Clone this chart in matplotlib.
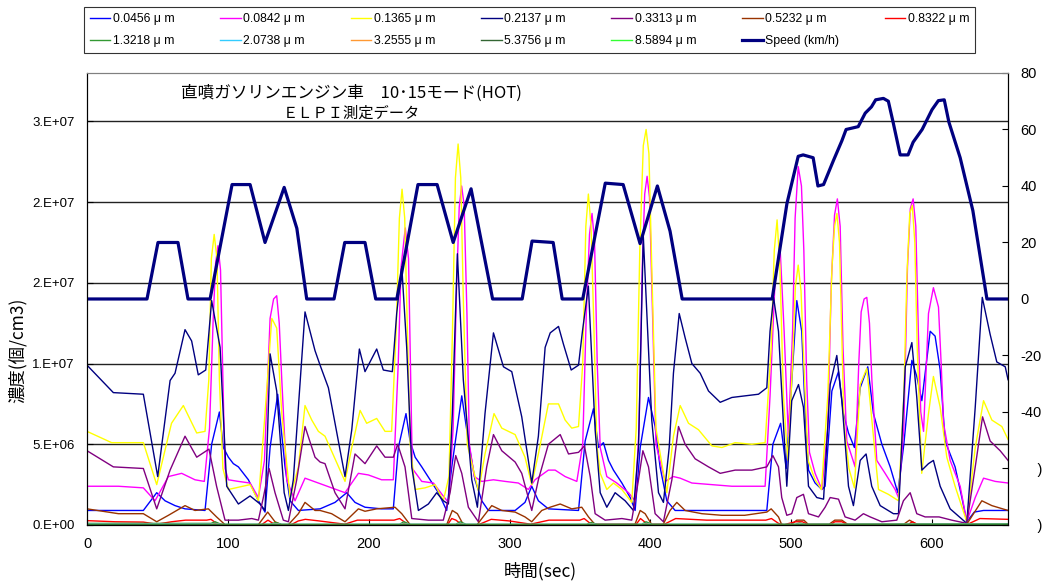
import numpy as np
import matplotlib
matplotlib.use("Agg")
import matplotlib.pyplot as plt

plt.rcParams['font.family'] = ['Liberation Sans', 'Noto Sans CJK JP', 'DejaVu Sans']

# particle concentrations, values in 1e6 /cm3
t_0456 = [0, 40, 49.5, 55.4, 62.5, 69.6, 83.8, 88.5, 94, 96.8, 100.4, 103.9, 107.5, 114.6, 121.7, 126.4, 130, 135.4,
          140.6, 144.2, 150.1, 165.5, 176.1, 184.4, 190.3, 197.4, 209.2, 217.5, 221.1, 226.5, 229.4, 233, 237.7, 243.6,
          249.5, 255.4, 259, 266.1, 270.8, 275.5, 280.3, 285, 304, 311, 315.8, 320.5, 327.6, 349, 353.7, 359.6, 363.2,
          366.7, 370.3, 373.8, 379.8, 385.7, 389.2, 392.8, 398.7, 403.4, 406.9, 411.7, 417.6, 482.7, 487, 492.5, 496.5,
          500.5, 504, 507.5, 510, 512.3, 517, 521.8, 524.1, 528.9, 533.6, 537.1, 540.7, 544.9, 549, 554.4, 558.4, 564.4,
          570.3, 575.7, 580, 585.7, 589.2, 592.8, 598.7, 602.2, 605.8, 609.3, 616.4, 621.2, 624.7, 630, 636.6, 654]
c_0456 = [0.9, 0.9, 2.0, 1.5, 1.2, 1.0, 0.9, 5.0, 7.0, 4.8, 4.2, 3.8, 3.6, 2.8, 1.5, 0.8, 4.8, 8.1,
          3.6, 1.5, 0.9, 1.0, 1.4, 2.0, 1.4, 1.1, 1.0, 1.0, 4.8, 6.9, 5.2, 4.2, 3.6, 2.8,
          2.0, 0.9, 3.6, 8.0, 5.2, 2.8, 1.5, 0.9, 0.9, 1.4, 2.4, 1.5, 1.0, 0.9, 5.2, 7.2, 4.8,
          5.1, 4.0, 3.4, 2.6, 1.7, 0.9, 4.8, 7.9, 6.1, 3.6, 1.5, 0.9, 0.9, 5.0, 6.3, 3.5,
          9.0, 13.9, 12.0, 6.9, 3.4, 2.6, 2.2, 2.4, 8.3, 9.5, 6.9, 5.7, 4.8, 8.5, 9.8, 6.9, 5.0,
          3.6, 2.0, 5.0, 10.2, 9.2, 7.7, 12.0, 11.7, 9.6, 5.2, 3.6, 1.7, 0.2, 0.8, 0.9, 0.9]

t_0842 = [0, 22.3, 40, 48.3, 57.8, 67.2, 76.7, 83.3, 87, 89.5, 91.3, 93, 94.8, 96.5, 98, 100.4, 107.5, 115.8, 121.7,
          126, 130, 132.5, 134.7, 136.5, 138.3, 141.8, 147.7, 154.8, 164.3, 173.7, 183.2, 192.7, 199.8, 209.2, 217.5,
          221, 223, 226, 228.3, 231, 237.7, 246, 252, 256.6, 260, 262.5, 264.3, 266, 267.8, 269.8, 271.5, 275, 280.3,
          288.6, 296.9, 306.3, 313.4, 318.1, 327.6, 332.4, 339.5, 347.8, 352, 354.5, 356.8, 358.6, 360.4, 362.3, 364.4,
          369.1, 376.2, 384.5, 389.2, 392, 394.3, 396, 397.7, 399.4, 401.3, 404, 410.5, 416.4, 421.2, 429.5, 443.7,
          457.9, 481.5, 485, 488.5, 492, 495, 498, 501, 502.8, 505, 507.3, 509, 511, 513, 517, 521.8, 526, 528.5, 530.8,
          532.8, 534.8, 536.8, 539.5, 545.4, 548, 549.7, 551.8, 553.7, 555.6, 557.3, 560.8, 566.7, 573.8, 576.2, 580,
          582.6, 584.6, 586.6, 588.5, 590.3, 592, 594, 596, 597.5, 601, 604.6, 606.5, 608.2, 612.9, 620, 624.7, 630.7,
          636.6, 644.9, 654]
c_0842 = [2.4, 2.4, 2.3, 1.5, 3.0, 3.2, 2.8, 2.7, 6, 12.5, 16.2, 17.3, 15.8, 9, 3.5, 2.8, 2.7, 2.6, 1.7,
          4, 12.8, 14.0, 14.2, 12.5, 9.0, 2.8, 1.5, 2.9, 2.6, 2.3, 2.0, 3.2, 3.1, 2.8, 2.8,
          10, 16, 18.4, 16.5, 3.5, 2.7, 2.6, 1.9, 1.4, 6, 15, 19.7, 21, 19.8, 13, 5, 3, 2.7,
          2.8, 2.7, 2.6, 2.2, 2.8, 3.4, 3.4, 3.0, 2.7, 5, 13, 18, 19.3, 17.5, 10, 4.8,
          3.0, 2.6, 2.0, 1.5, 6, 16, 20.5, 21.6, 20.3, 14, 5, 2.7, 3.0, 2.9, 2.6, 2.5,
          2.4, 2.4, 8, 15, 17.4, 12, 5.5, 12, 19, 22.2, 21, 17, 9, 4.5, 3.2, 2.2, 6, 15, 19.2,
          20.2, 18.5, 11, 5.2, 3.6, 10, 13.2, 14.0, 14.1, 12.5, 9.0, 4.0, 3.2, 2.2, 1.7, 6,
          16, 19.6, 20.2, 18.5, 12, 7, 5.8, 10, 13.1, 14.7, 13.5, 10, 6.3, 4.0, 2.4, 0.2, 1.7,
          2.9, 2.7, 2.6]

t_1365 = [0, 17.5, 40, 49.5, 60, 68.4, 77.9, 83.8, 86.5, 88.3, 90.3, 92.3, 94, 96.5, 100.4, 115.8, 121.7, 126.4, 131.2,
          134.7, 138.3, 144.2, 150.1, 154.8, 159.6, 164.3, 169, 183.2, 188, 193.9, 198.6, 205.7, 211.6, 216.3, 219.5,
          221.8, 223.7, 225.6, 227.5, 229.5, 233, 240, 247.1, 253, 257, 259.5, 261.6, 263.5, 265.4, 267.2, 270, 278,
          282.6, 289, 294.5, 304, 311, 315.8, 320.5, 327.6, 334.8, 339.5, 344.2, 349, 352, 354.2, 356, 357.9, 360, 362,
          364.4, 369.1, 373.8, 379.8, 386.8, 390, 392.5, 395, 397, 399, 401.3, 404, 407, 411.7, 416.4, 421.2, 427.1,
          434.2, 443.7, 450.8, 460.2, 472.1, 481.5, 485.8, 488, 490, 492, 494.5, 497.6, 501, 503, 505, 507, 509, 512,
          517, 521.5, 526, 529, 530.8, 532.5, 534.3, 537.5, 541, 544.9, 549, 553.7, 557.3, 562, 569, 576.2, 580, 582.2,
          584.2, 586, 587.8, 589.5, 592.7, 597.5, 601, 605.8, 610.5, 616.4, 624.7, 630.7, 636.6, 642.5, 649.6, 654]
c_1365 = [5.8, 5.1, 5.1, 2.5, 6.3, 7.4, 5.7, 5.8, 9, 16.5, 18.0, 16.5, 9, 3.5, 2.2, 2.5, 1.5, 6.9, 12.8,
          12.2, 6.9, 1.7, 3.6, 7.4, 6.5, 5.8, 5.5, 2.7, 4.8, 7.1, 6.3, 6.6, 5.8, 5.8, 12,
          19, 20.8, 19, 12, 5, 2.2, 2.3, 2.5, 1.5, 3, 12, 21.5, 23.6, 21.5, 14, 5, 2.1,
          4.4, 6.9, 6.0, 5.6, 4.2, 2.5, 4.4, 7.5, 7.5, 6.5, 6.0, 6.1, 10, 18.5, 20.5, 18.5, 12, 5,
          3.2, 2.2, 2.6, 2.2, 1.4, 6, 17, 23.5, 24.5, 23, 15, 6, 4.4, 2.0, 5.5, 7.4, 6.3,
          5.9, 4.9, 4.8, 5.1, 5.0, 5.1, 11.0, 17, 18.9, 16, 8, 4.0, 10, 14.8, 16.1, 14.5, 10, 4,
          2.8, 2.2, 8, 16, 18.5, 19.3, 17.5, 6.3, 3.5, 2.3, 8.7, 9.7, 6.5, 2.2, 1.9, 1.5, 8, 15.5,
          19.3, 19.8, 17.5, 11, 3.2, 6.9, 9.2, 7.3, 4.2, 2.4, 0.2, 4.8, 7.7, 6.5, 6.1, 5.3]

t_2137 = [0, 18.7, 40, 50.2, 59, 62.5, 69.6, 74.3, 79, 84.3, 88.5, 94.5, 99.2, 107.5, 115.8, 122.9, 126.4, 130, 134.7,
          140, 143, 146.5, 154.8, 161.9, 165.5, 171.4, 183.2, 188, 193.4, 197.4, 205.7, 210.4, 216.8, 219.9, 223.5,
          227, 230.6, 235.3, 242.4, 248.3, 253, 256.6, 259.4, 263, 267.2, 273.2, 277.2, 282.6, 288.6, 295.7, 301.6,
          308.7, 315.8, 320.5, 325.3, 328.9, 334.8, 338.3, 343.8, 349, 351.8, 356, 360.8, 364.4, 369.1, 375, 382.1,
          388, 391.6, 395, 401, 405.8, 409.3, 413.4, 416.4, 420.5, 424.7, 429.5, 435.4, 441.3, 449.6, 457.9, 467.3,
          476.8, 482.7, 485, 487.5, 491, 496.9, 500.4, 505.2, 508.7, 512.3, 518.2, 523, 527.7, 532.4, 536, 540.7,
          544.2, 549, 553.2, 557.2, 563.2, 572.6, 576.2, 581, 585.7, 589.2, 592.8, 597.5, 601, 605.8, 612.9, 624.7,
          630.7, 635.7, 641.3, 646, 652, 654]
c_2137 = [9.9, 8.2, 8.1, 3.0, 8.95, 9.4, 12.1, 11.4, 9.3, 9.6, 13.9, 11.0, 2.4, 1.3, 1.8, 1.3, 0.9, 10.6, 8.3,
          2.0, 0.9, 2.8, 13.2, 10.8, 9.9, 8.5, 3.0, 5.9, 10.9, 9.5, 10.9, 9.6, 9.5, 13.1, 16.0,
          11, 3.6, 0.9, 1.3, 2.0, 1.5, 1.3, 6.9, 16.8, 9.0, 2.8, 1.1, 6.9, 11.9, 9.8, 9.5,
          6.7, 2.6, 5.5, 11.0, 11.9, 12.3, 11.2, 9.6, 9.9, 12.0, 14.8, 5.9, 2.0, 1.1, 2.0, 1.5,
          0.9, 4.8, 17.9, 6.5, 2.0, 1.4, 4.8, 9.4, 13.1, 11.6, 10.0, 9.4, 8.3, 7.6, 7.9, 8.0,
          8.1, 8.5, 12, 14.1, 12, 2.4, 7.7, 8.7, 7.3, 2.4, 1.7, 1.6, 8.7, 10.5, 7.7, 2.4,
          1.2, 4.0, 4.4, 2.4, 1.2, 0.7, 0.7, 9.8, 11.3, 7.9, 3.4, 3.8, 4.0, 2.4, 1.0, 0.1,
          7.3, 14.1, 11.8, 10.1, 9.8, 9.0]

t_3313 = [0, 18.7, 40, 49.5, 59, 69.6, 77.9, 86.6, 92, 98, 107.5, 117, 121.7, 125.2, 129.3, 133.5, 139.4, 143, 148.9,
          154.8, 161.9, 165.5, 169, 176.1, 183.2, 190.3, 197.4, 205.7, 211.6, 217.5, 220.6, 225.8, 230.6, 242.4, 253,
          257.8, 261.8, 266.1, 270.8, 277.9, 283.8, 288.6, 294.5, 304, 308.7, 315.8, 320.5, 327.6, 336, 341.9, 349,
          353.2, 357.3, 360.8, 367.9, 379.8, 386.8, 391.6, 394.7, 398.7, 403.4, 409.3, 415.3, 420, 424.7, 431.8, 441.3,
          449.6, 460.2, 472.1, 482.7, 487, 491, 493.3, 496.9, 500.4, 504, 508.7, 512.3, 519.4, 524.1, 527.7, 533.6,
          538.3, 545.4, 551.3, 556.1, 564.4, 575, 579.7, 584.5, 589.2, 595.1, 605, 614, 624.7, 630.7, 635.9, 641.3,
          648.4, 654]
c_3313 = [4.6, 3.6, 3.5, 1.0, 3.4, 5.5, 4.2, 4.7, 2.4, 0.3, 0.3, 0.4, 0.3, 1.7, 3.5, 2.0, 0.3, 0.2, 2.8,
          6.1, 4.2, 3.9, 3.8, 2.0, 1.0, 4.4, 3.8, 4.9, 4.2, 4.2, 5.0, 3.6, 0.4, 0.3, 0.3,
          2.0, 4.3, 3.2, 1.1, 0.2, 3.6, 5.6, 4.6, 3.9, 3.2, 0.9, 2.8, 5.0, 5.6, 4.4, 4.5,
          4.9, 3.0, 0.7, 0.3, 0.4, 0.3, 2.8, 4.6, 3.6, 0.7, 0.2, 2.8, 6.1, 5.0, 4.1, 3.6,
          3.2, 3.4, 3.4, 3.6, 4.3, 3.6, 1.7, 0.6, 0.7, 1.7, 1.9, 0.7, 0.5, 1.1, 1.7, 1.6,
          0.5, 0.3, 0.7, 0.5, 0.2, 0.3, 1.5, 2.0, 0.7, 0.5, 0.5, 0.3, 0.1, 3.6, 6.7, 5.2,
          4.6, 4.0]

t_5232 = [0, 22.3, 40, 49.5, 57.8, 69.6, 76.7, 86.2, 92, 98, 121.7, 128.3, 133.5, 138, 143, 150.1, 154.8, 161.9,
          165.5, 173.7, 183.2, 192.7, 197.4, 205.7, 218.7, 223.5, 229.4, 255.4, 259.4, 263, 267.2, 277, 287.4, 294.5,
          304, 311, 315.8, 322.9, 328.8, 336, 344.2, 351.3, 356.1, 360.8, 389, 392.8, 396.3, 401, 409, 414, 418.8,
          424.7, 436.6, 450.8, 467, 482.7, 485.8, 491, 493.3, 500, 504, 509, 512, 527, 531, 536, 540, 580, 584, 589,
          624.7, 635.4, 642.5, 654]
c_5232 = [1.0, 0.7, 0.7, 0.2, 0.6, 1.2, 0.9, 1.0, 0.5, 0.02, 0.02, 0.8, 0.2, 0.02, 0.02, 0.7, 1.4, 0.9,
          0.9, 0.7, 0.2, 1.0, 0.85, 1.0, 1.1, 0.7, 0.02, 0.02, 0.9, 0.7, 0.02, 0.02, 1.2, 0.9,
          0.8, 0.5, 0.2, 0.9, 1.1, 1.3, 1.0, 1.1, 0.5, 0.02, 0.02, 0.9, 0.7, 0.02, 0.02, 0.9, 1.4,
          0.9, 0.7, 0.6, 0.6, 0.8, 1.0, 0.5, 0.02, 0.02, 0.3, 0.3, 0.05, 0.05, 0.3, 0.3, 0.05, 0.05, 0.3, 0.05,
          0.05, 1.5, 1.2, 0.9]

t_8322 = [0, 20, 40, 49.5, 60, 70, 85, 88, 92, 97, 124, 128.5, 132, 137, 145, 150, 155, 165, 183, 192, 205, 218, 222,
          228, 256, 259, 262, 266, 278, 287, 300, 315, 328, 350, 353, 358, 390, 393, 398, 410, 418, 440, 482, 486,
          491, 495, 503, 508, 512, 528, 531, 536, 540, 583, 586, 590, 624.7, 634, 654]
c_8322 = [0.27, 0.2, 0.18, 0.05, 0.2, 0.3, 0.3, 0.35, 0.1, 0.02, 0.02, 0.3, 0.1, 0.02, 0.02, 0.25, 0.35, 0.25, 0.05,
          0.3, 0.3, 0.3, 0.4, 0.02, 0.02, 0.4, 0.3, 0.02, 0.02, 0.35, 0.25, 0.05, 0.3, 0.3, 0.4, 0.05, 0.05, 0.4,
          0.05, 0.05, 0.4, 0.3, 0.3, 0.4, 0.1, 0.02, 0.2, 0.2, 0.02, 0.02, 0.2, 0.2, 0.02, 0.02, 0.2, 0.02, 0.02,
          0.4, 0.35]

t_small = [0, 88, 91, 95, 130, 134, 138, 222, 225, 229, 262, 265, 269, 355, 358, 362, 394, 397, 401, 503, 506, 510, 654]
c_13218 = [0.1, 0.1, 0.2, 0.05, 0.05, 0.15, 0.05, 0.05, 0.2, 0.05, 0.05, 0.2, 0.05, 0.05, 0.15, 0.05, 0.05, 0.2, 0.05,
           0.05, 0.12, 0.05, 0.08]
c_20738 = [0.05, 0.05, 0.1, 0.03, 0.03, 0.08, 0.03, 0.03, 0.1, 0.03, 0.03, 0.1, 0.03, 0.03, 0.08, 0.03, 0.03, 0.1, 0.03,
           0.03, 0.06, 0.03, 0.04]
c_32555 = [0.03, 0.03, 0.06, 0.02, 0.02, 0.05, 0.02, 0.02, 0.06, 0.02, 0.02, 0.06, 0.02, 0.02, 0.05, 0.02, 0.02, 0.06,
           0.02, 0.02, 0.04, 0.02, 0.03]
c_53756 = [0.02, 0.02, 0.04, 0.01, 0.01, 0.03, 0.01, 0.01, 0.04, 0.01, 0.01, 0.04, 0.01, 0.01, 0.03, 0.01, 0.01, 0.04,
           0.01, 0.01, 0.02, 0.01, 0.02]
c_85894 = [0.01] * len(t_small)

# vehicle speed (km/h)
t_speed = [0, 42.6, 50.4, 64.6, 71.7, 87.4, 103, 115.8, 126.4, 140, 149, 156, 175.4, 183, 197.4, 205, 220, 235, 248.6,
           260, 272.7, 288, 309, 316, 331, 337.4, 352, 368, 380.7, 392.7, 405, 414, 422.6, 486.5, 497, 505, 508.5,
           515.6, 519, 523, 530, 536, 539, 547.6, 552.6, 557, 560, 565.5, 569, 572.5, 577.4, 583, 586.6, 593, 600,
           604.5, 608.7, 612, 620, 629, 639, 654]
speed = [0, 0, 20, 20, 0, 0, 40.5, 40.5, 20, 39.5, 25, 0, 0, 20, 20, 0, 0, 40.5, 40.5,
         20, 39, 0, 0, 20.5, 20, 0, 0, 41, 40.5, 19.6, 40, 24, 0, 0, 33.8, 50.5, 51,
         50, 40, 40.5, 49, 56, 60, 61, 65.8, 68, 70.5, 71, 70, 62.3, 51, 51, 55.5, 60, 67,
         70.2, 70.5, 62.6, 50, 31.3, 0, 0]

series = [
    ('0.0456 μ m', t_0456, c_0456, '#0000FF'),
    ('0.0842 μ m', t_0842, c_0842, '#FF00FF'),
    ('0.1365 μ m', t_1365, c_1365, '#FFFF00'),
    ('0.2137 μ m', t_2137, c_2137, '#000080'),
    ('0.3313 μ m', t_3313, c_3313, '#800080'),
    ('0.5232 μ m', t_5232, c_5232, '#993300'),
    ('0.8322 μ m', t_8322, c_8322, '#FF0000'),
    ('1.3218 μ m', t_small, c_13218, '#339933'),
    ('2.0738 μ m', t_small, c_20738, '#33CCFF'),
    ('3.2555 μ m', t_small, c_32555, '#FF9933'),
    ('5.3756 μ m', t_small, c_53756, '#336633'),
    ('8.5894 μ m', t_small, c_85894, '#33FF33'),
]

fig = plt.figure(figsize=(10.47, 5.81), dpi=100)
ax = fig.add_axes([0.0831, 0.0964, 0.8797, 0.778])

handles = []
for name, tt, cc, col in series:
    h, = ax.plot(tt, np.array(cc) * 1e6, color=col, lw=1.0, label=name, solid_joinstyle='round')
    handles.append(h)

ax.set_xlim(0, 654)
ax.set_ylim(0, 2.8e7)
ax.set_yticks([0, 5e6, 1e7, 1.5e7, 2e7, 2.5e7])
ax.set_yticklabels(['0.E+00', '5.E+06', '1.E+07', '2.E+07', '2.E+07', '3.E+07'])
ax.set_xticks([0, 100, 200, 300, 400, 500, 600])
ax.tick_params(axis='y', direction='in', length=4, labelsize=9.5, pad=9)
ax.tick_params(axis='x', direction='in', length=4, labelsize=10.5, pad=9)
ax.yaxis.grid(True, color='#222222', lw=1.0)
ax.set_axisbelow(True)
ax.spines['top'].set_color('#808080')

ax2 = ax.twinx()
hs, = ax2.plot(t_speed, speed, color='#000080', lw=2.3, label='Speed (km/h)', solid_joinstyle='round')
handles.append(hs)
ax2.set_ylim(-80, 80)
ax2.set_yticks([80, 60, 40, 20, 0, -20, -40, -60, -80])
ax2.set_yticklabels(['80', '60', '40', '20', '0', '-20', '-40', '    )', '    )'])
ax2.tick_params(axis='y', direction='in', length=4, labelsize=10.5, pad=9)
ax2.spines['top'].set_color('#808080')

ax.text(0.2866, 0.956, '直噴ガソリンエンジン車\u300010･15モード(HOT)', transform=ax.transAxes,
        ha='center', va='center', fontsize=12, family=['Noto Sans CJK JP'])
ax.text(0.2866, 0.912, 'ＥＬＰＩ測定データ', transform=ax.transAxes,
        ha='center', va='center', fontsize=11, family=['Noto Sans CJK JP'])

fig.text(18 / 1047, 1 - 350 / 581, '濃度(個/cm3)', rotation=90, ha='center', va='center', fontsize=12.5,
         family=['Noto Sans CJK JP', 'Liberation Sans'])
fig.text(540 / 1047, 1 - 571 / 581, '時間(sec)', ha='center', va='center', fontsize=12.5,
         family=['Noto Sans CJK JP', 'Liberation Sans'])

order = [0, 7, 1, 8, 2, 9, 3, 10, 4, 11, 5, 12, 6]
leg = fig.legend([handles[i] for i in order], [handles[i].get_label() for i in order],
                 ncol=7, loc='upper left', bbox_to_anchor=(84 / 1047, 1 - 8 / 581, 891 / 1047, 0.001),
                 mode='expand', fontsize=8.8, handlelength=1.7, handletextpad=0.2, labelspacing=0.85,
                 borderpad=0.45, borderaxespad=0, fancybox=False, frameon=True)
leg.get_frame().set_edgecolor('black')
leg.get_frame().set_linewidth(0.8)

fig.savefig('out.png', dpi=100)
